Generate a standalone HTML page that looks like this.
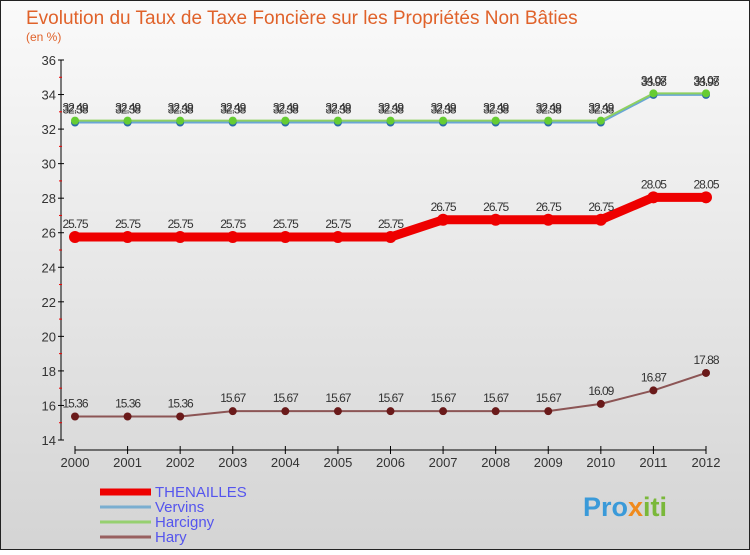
<!DOCTYPE html>
<html><head><meta charset="utf-8"><style>
body{margin:0;}
#c{width:750px;height:550px;position:relative;font-family:"Liberation Sans",sans-serif;}
svg text{font-family:"Liberation Sans",sans-serif;}
</style></head><body>
<div id="c">
<svg id="s" width="750" height="550" xmlns="http://www.w3.org/2000/svg">
<defs><linearGradient id="bg" x1="0" y1="0" x2="0" y2="1"><stop offset="0" stop-color="#fafafa"/><stop offset="1" stop-color="#d4d4d4"/></linearGradient></defs>
<rect x="0.5" y="0.5" width="749" height="549" fill="url(#bg)" stroke="#222"/>
<text x="26" y="24" font-size="19" fill="#e0622a">Evolution du Taux de Taxe Foncière sur les Propriétés Non Bâties</text>
<text x="26" y="41" font-size="12" fill="#e0622a">(en %)</text>
<g id="axes"></g><g id="series"></g><g id="legend"></g>
<text x="583" y="516" font-size="27" font-weight="bold" fill="#3a9ad9">Pro<tspan fill="#f08a1c">x</tspan><tspan fill="#7ab83a">iti</tspan></text>
</svg></div>
<script>
const years=[2000,2001,2002,2003,2004,2005,2006,2007,2008,2009,2010,2011,2012];
const yTicks=[14,16,18,20,22,24,26,28,30,32,34,36];
const thenailles=[25.75,25.75,25.75,25.75,25.75,25.75,25.75,26.75,26.75,26.75,26.75,28.05,28.05];
const vervins=[32.38,32.38,32.38,32.38,32.38,32.38,32.38,32.38,32.38,32.38,32.38,33.98,33.98];
const harcigny=[32.49,32.49,32.49,32.49,32.49,32.49,32.49,32.49,32.49,32.49,32.49,34.07,34.07];
const hary=[15.36,15.36,15.36,15.67,15.67,15.67,15.67,15.67,15.67,15.67,16.09,16.87,17.88];
const NS="http://www.w3.org/2000/svg";
const X=i=>75+i*(706-75)/(years.length-1);
const Y=v=>440-(v-14)*380/22;
function mk(p,t,a){const e=document.createElementNS(NS,t);for(const k in a)e.setAttribute(k,a[k]);p.appendChild(e);return e;}
const ax=document.getElementById('axes');
let l=mk(ax,'line',{x1:61,y1:60,x2:61,y2:440,stroke:'#000'});


l=mk(ax,'line',{x1:75,y1:450,x2:706,y2:450,stroke:'#000'});


yTicks.forEach((t,i)=>{
  mk(ax,'line',{x1:58,y1:Y(t),x2:64,y2:Y(t),stroke:'#000'});
  if(i<yTicks.length-1)mk(ax,'line',{x1:59,y1:Y(t+1),x2:62,y2:Y(t+1),stroke:'#e00'});
  const tx=mk(ax,'text',{x:56,y:Y(t)+5,'font-size':13,'text-anchor':'end',fill:'#333'});
  tx.textContent=t;
  
  
});
years.forEach((yr,i)=>{
  mk(ax,'line',{x1:X(i),y1:446,x2:X(i),y2:454,stroke:'#000'});
  const tx=mk(ax,'text',{x:X(i),y:467,'font-size':13,'text-anchor':'middle',fill:'#333'});
  tx.textContent=yr;
  
  
});
const sg=document.getElementById('series');
function series(name,vals,color,w,dot,dotColor,labels){
  const g=mk(sg,'g',{});
  
  
  mk(g,'polyline',{points:vals.map((v,i)=>X(i)+','+Y(v)).join(' '),fill:'none',stroke:color,'stroke-width':w,'stroke-linejoin':'round'});
  vals.forEach((v,i)=>{
    const c=mk(g,'circle',{cx:X(i),cy:Y(v),r:dot,fill:dotColor});
    
    
    if(labels){const t=mk(g,'text',{x:X(i),y:Y(v)-9,'font-size':12,'text-anchor':'middle',fill:'#333','letter-spacing':'-1'});
    t.textContent=v.toFixed(2);
    
    }
  });
}
series('vervins',vervins,'#6aa6d6',2,4,'#2a6aa8',true);
series('harcigny',harcigny,'#8ed060',2,4,'#66cc33',true);
series('thenailles',thenailles,'#ee0000',9,6,'#ee0000',true);
series('hary',hary,'#8c5555',2,4,'#6a1a1a',true);
const lg=document.getElementById('legend');
const items=[['THENAILLES','#ee0000',7,497],['Vervins','#7aaed0',3,512],['Harcigny','#96d070',3,527],['Hary','#986060',3,542]];
items.forEach(it=>{
  const g=mk(lg,'g',{});
  
  
  mk(g,'line',{x1:100,y1:it[3]-5,x2:151,y2:it[3]-5,stroke:it[1],'stroke-width':it[2]});
  const t=mk(g,'text',{x:155,y:it[3],'font-size':15,fill:'#5555ee'});
  t.textContent=it[0];
});
</script>
</body></html>
